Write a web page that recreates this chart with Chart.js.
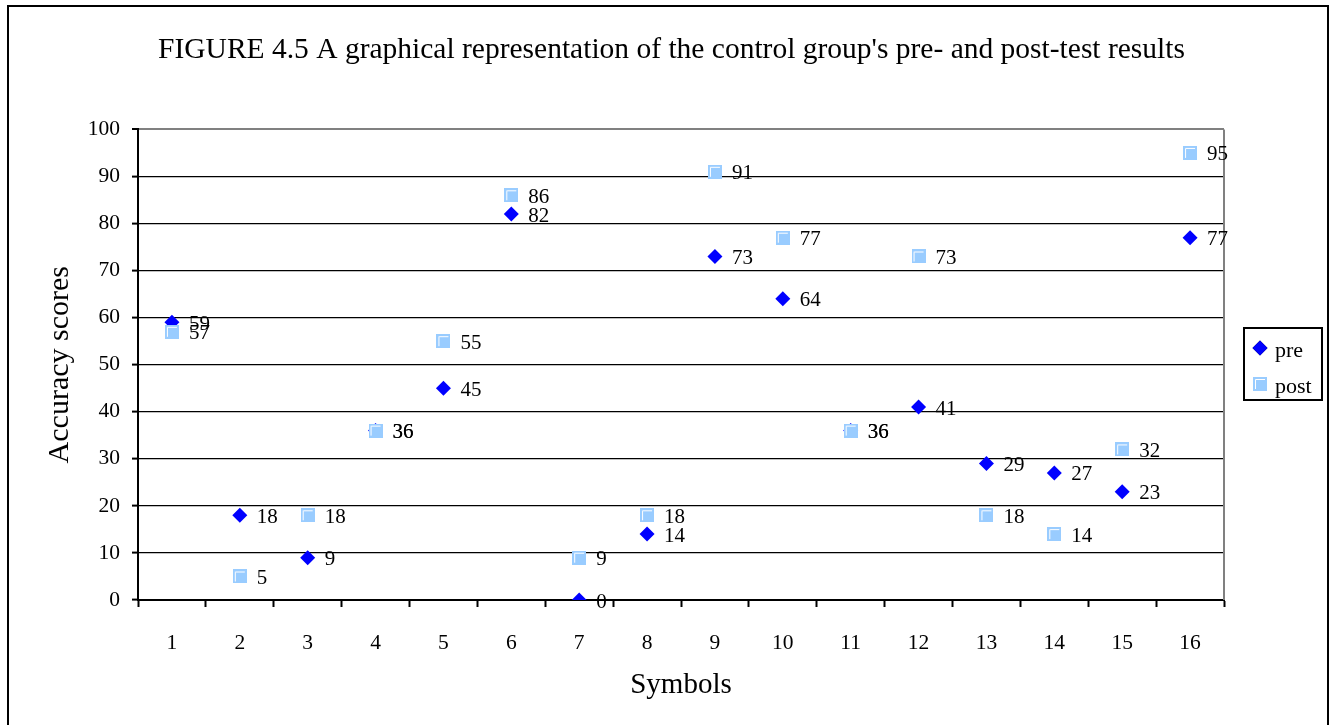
<!DOCTYPE html>
<html lang="en">
<head>
    <meta charset="UTF-8">
    <title>Control group pre- and post-test results</title>
    <style>
        html, body { margin: 0; padding: 0; background: #fff; overflow: hidden; }
        .chart-box { position: relative; width: 1331px; height: 725px; }
        .frame {
            position: absolute; left: 7px; top: 5px; width: 1318px; height: 760px;
            border: 2px solid #000; pointer-events: none;
        }
    </style>
</head>
<body>
    <div class="chart-box">
        <canvas id="resultsChart" width="1331" height="725"></canvas>
        <div class="frame"></div>
    </div>
    <script src="https://cdn.jsdelivr.net/npm/chart.js"></script>
    <script>
        // symbols 1..16 and the accuracy scores of the control group
        const symbols = ['1', '2', '3', '4', '5', '6', '7', '8', '9', '10', '11', '12', '13', '14', '15', '16'];
        const preScores = [59, 18, 9, 36, 45, 82, 0, 14, 73, 64, 36, 41, 29, 27, 23, 77];
        const postScores = [57, 5, 18, 36, 55, 86, 9, 18, 91, 77, 36, 73, 18, 14, 32, 95];
        const yTicks = [0, 10, 20, 30, 40, 50, 60, 70, 80, 90, 100];

        const serif = '"Liberation Serif", "Times New Roman", serif';

        // light blue square with a white bevel on the top and left
        const postMarker = document.createElement('canvas');
        postMarker.width = 14;
        postMarker.height = 14;
        const m = postMarker.getContext('2d');
        m.fillStyle = '#99CCFF';
        m.fillRect(0, 0, 14, 14);
        m.strokeStyle = '#ffffff';
        m.lineWidth = 1;
        m.beginPath();
        m.moveTo(2.5, 12);
        m.lineTo(2.5, 2.5);
        m.lineTo(12, 2.5);
        m.stroke();

        // title spans the whole frame, not just the plot + axis
        const wideTitle = {
            id: 'wideTitle',
            afterLayout(chart) {
                const t = chart.titleBlock;
                if (!t) return;
                t.left = 12;
                t.right = chart.width;
                t.width = t.right - t.left;
            }
        };

        // value printed to the right of every marker
        const pointLabels = {
            id: 'pointLabels',
            afterDatasetsDraw(chart) {
                const ctx = chart.ctx;
                ctx.save();
                ctx.font = '21px ' + serif;
                ctx.fillStyle = '#000';
                ctx.textAlign = 'left';
                ctx.textBaseline = 'middle';
                chart.data.datasets.forEach((ds, i) => {
                    chart.getDatasetMeta(i).data.forEach((pt, j) => {
                        ctx.fillText(ds.data[j], pt.x + 17, pt.y + 2);
                    });
                });
                ctx.restore();
            }
        };

        // grey plot area edge on the right
        const plotFrame = {
            id: 'plotFrame',
            beforeDatasetsDraw(chart) {
                const { ctx, chartArea } = chart;
                ctx.save();
                ctx.strokeStyle = '#808080';
                ctx.lineWidth = 2;
                ctx.beginPath();
                ctx.moveTo(chartArea.right, chartArea.top);
                ctx.lineTo(chartArea.right, chartArea.bottom);
                ctx.stroke();
                ctx.restore();
            }
        };

        // boxed legend beside the plot
        const boxLegend = {
            id: 'boxLegend',
            afterDraw(chart) {
                const { ctx, chartArea } = chart;
                const left = chartArea.right + 20;
                const top = 328;
                ctx.save();
                ctx.strokeStyle = '#000';
                ctx.lineWidth = 2;
                ctx.strokeRect(left, top, 78, 72);
                ctx.font = '22px ' + serif;
                ctx.fillStyle = '#000';
                ctx.textBaseline = 'middle';
                const order = [1, 0];
                order.forEach((dsIndex, row) => {
                    const ds = chart.data.datasets[dsIndex];
                    const cy = top + 20 + row * 36;
                    Chart.helpers.drawPoint(ctx, {
                        pointStyle: ds.pointStyle,
                        radius: ds.pointRadius,
                        borderWidth: 0,
                        rotation: 0
                    }, left + 16, cy);
                    if (ds.pointStyle === 'rectRot') {
                        ctx.fillStyle = ds.backgroundColor;
                        ctx.fill();
                    }
                    ctx.fillStyle = '#000';
                    ctx.fillText(ds.label, left + 31, cy + 3);
                });
                ctx.restore();
            }
        };

        const ctx = document.getElementById('resultsChart').getContext('2d');
        new Chart(ctx, {
            type: 'line',
            data: {
                labels: symbols,
                datasets: [
                    {
                        label: 'post',
                        data: postScores,
                        showLine: false,
                        pointStyle: postMarker,
                        pointRadius: 7,
                        pointHoverRadius: 7,
                        backgroundColor: '#99CCFF',
                        borderColor: '#99CCFF'
                    },
                    {
                        label: 'pre',
                        data: preScores,
                        showLine: false,
                        pointStyle: 'rectRot',
                        pointRadius: 7.5,
                        pointHoverRadius: 7.5,
                        pointBorderWidth: 0,
                        backgroundColor: '#0000FF',
                        borderColor: '#0000FF'
                    }
                ]
            },
            options: {
                responsive: false,
                animation: false,
                events: [],
                layout: { padding: { left: 0, right: 107, top: 0, bottom: 0 } },
                plugins: {
                    legend: { display: false },
                    tooltip: { enabled: false },
                    title: {
                        display: true,
                        text: "FIGURE 4.5 A graphical representation of the control group's pre- and post-test results",
                        color: '#000',
                        font: { family: serif, size: 29.5, weight: 'normal' },
                        padding: { top: 33, bottom: 61 }
                    }
                },
                scales: {
                    x: {
                        offset: true,
                        grid: {
                            offset: true,
                            drawOnChartArea: false,
                            drawTicks: true,
                            tickLength: 7,
                            tickColor: '#000',
                            tickWidth: 2
                        },
                        border: { color: '#000', width: 2 },
                        ticks: {
                            color: '#000',
                            font: { family: serif, size: 21.5 },
                            padding: 23,
                            maxRotation: 0
                        },
                        title: {
                            display: true,
                            text: 'Symbols',
                            color: '#000',
                            font: { family: serif, size: 29 },
                            padding: { top: 0, bottom: 22 }
                        },
                        afterFit(scale) { scale.height = 125; }
                    },
                    y: {
                        min: 0,
                        max: 100,
                        afterBuildTicks(scale) {
                            scale.ticks = yTicks.map(v => ({ value: v }));
                        },
                        grid: {
                            color: c => c.tick && c.tick.value === 100 ? '#808080' : '#000',
                            lineWidth: c => c.tick && c.tick.value === 100 ? 2 : 1.2,
                            tickLength: 6,
                            tickColor: '#000',
                            tickWidth: 2
                        },
                        border: { color: '#000', width: 2 },
                        ticks: {
                            color: '#000',
                            font: { family: serif, size: 21.5 },
                            padding: 12
                        },
                        title: {
                            display: true,
                            text: 'Accuracy scores',
                            color: '#000',
                            font: { family: serif, size: 30 },
                            padding: { top: 42, bottom: 0 }
                        },
                        afterFit(scale) { scale.width = 138; }
                    }
                }
            },
            plugins: [wideTitle, plotFrame, pointLabels, boxLegend]
        });
    </script>
</body>
</html>
